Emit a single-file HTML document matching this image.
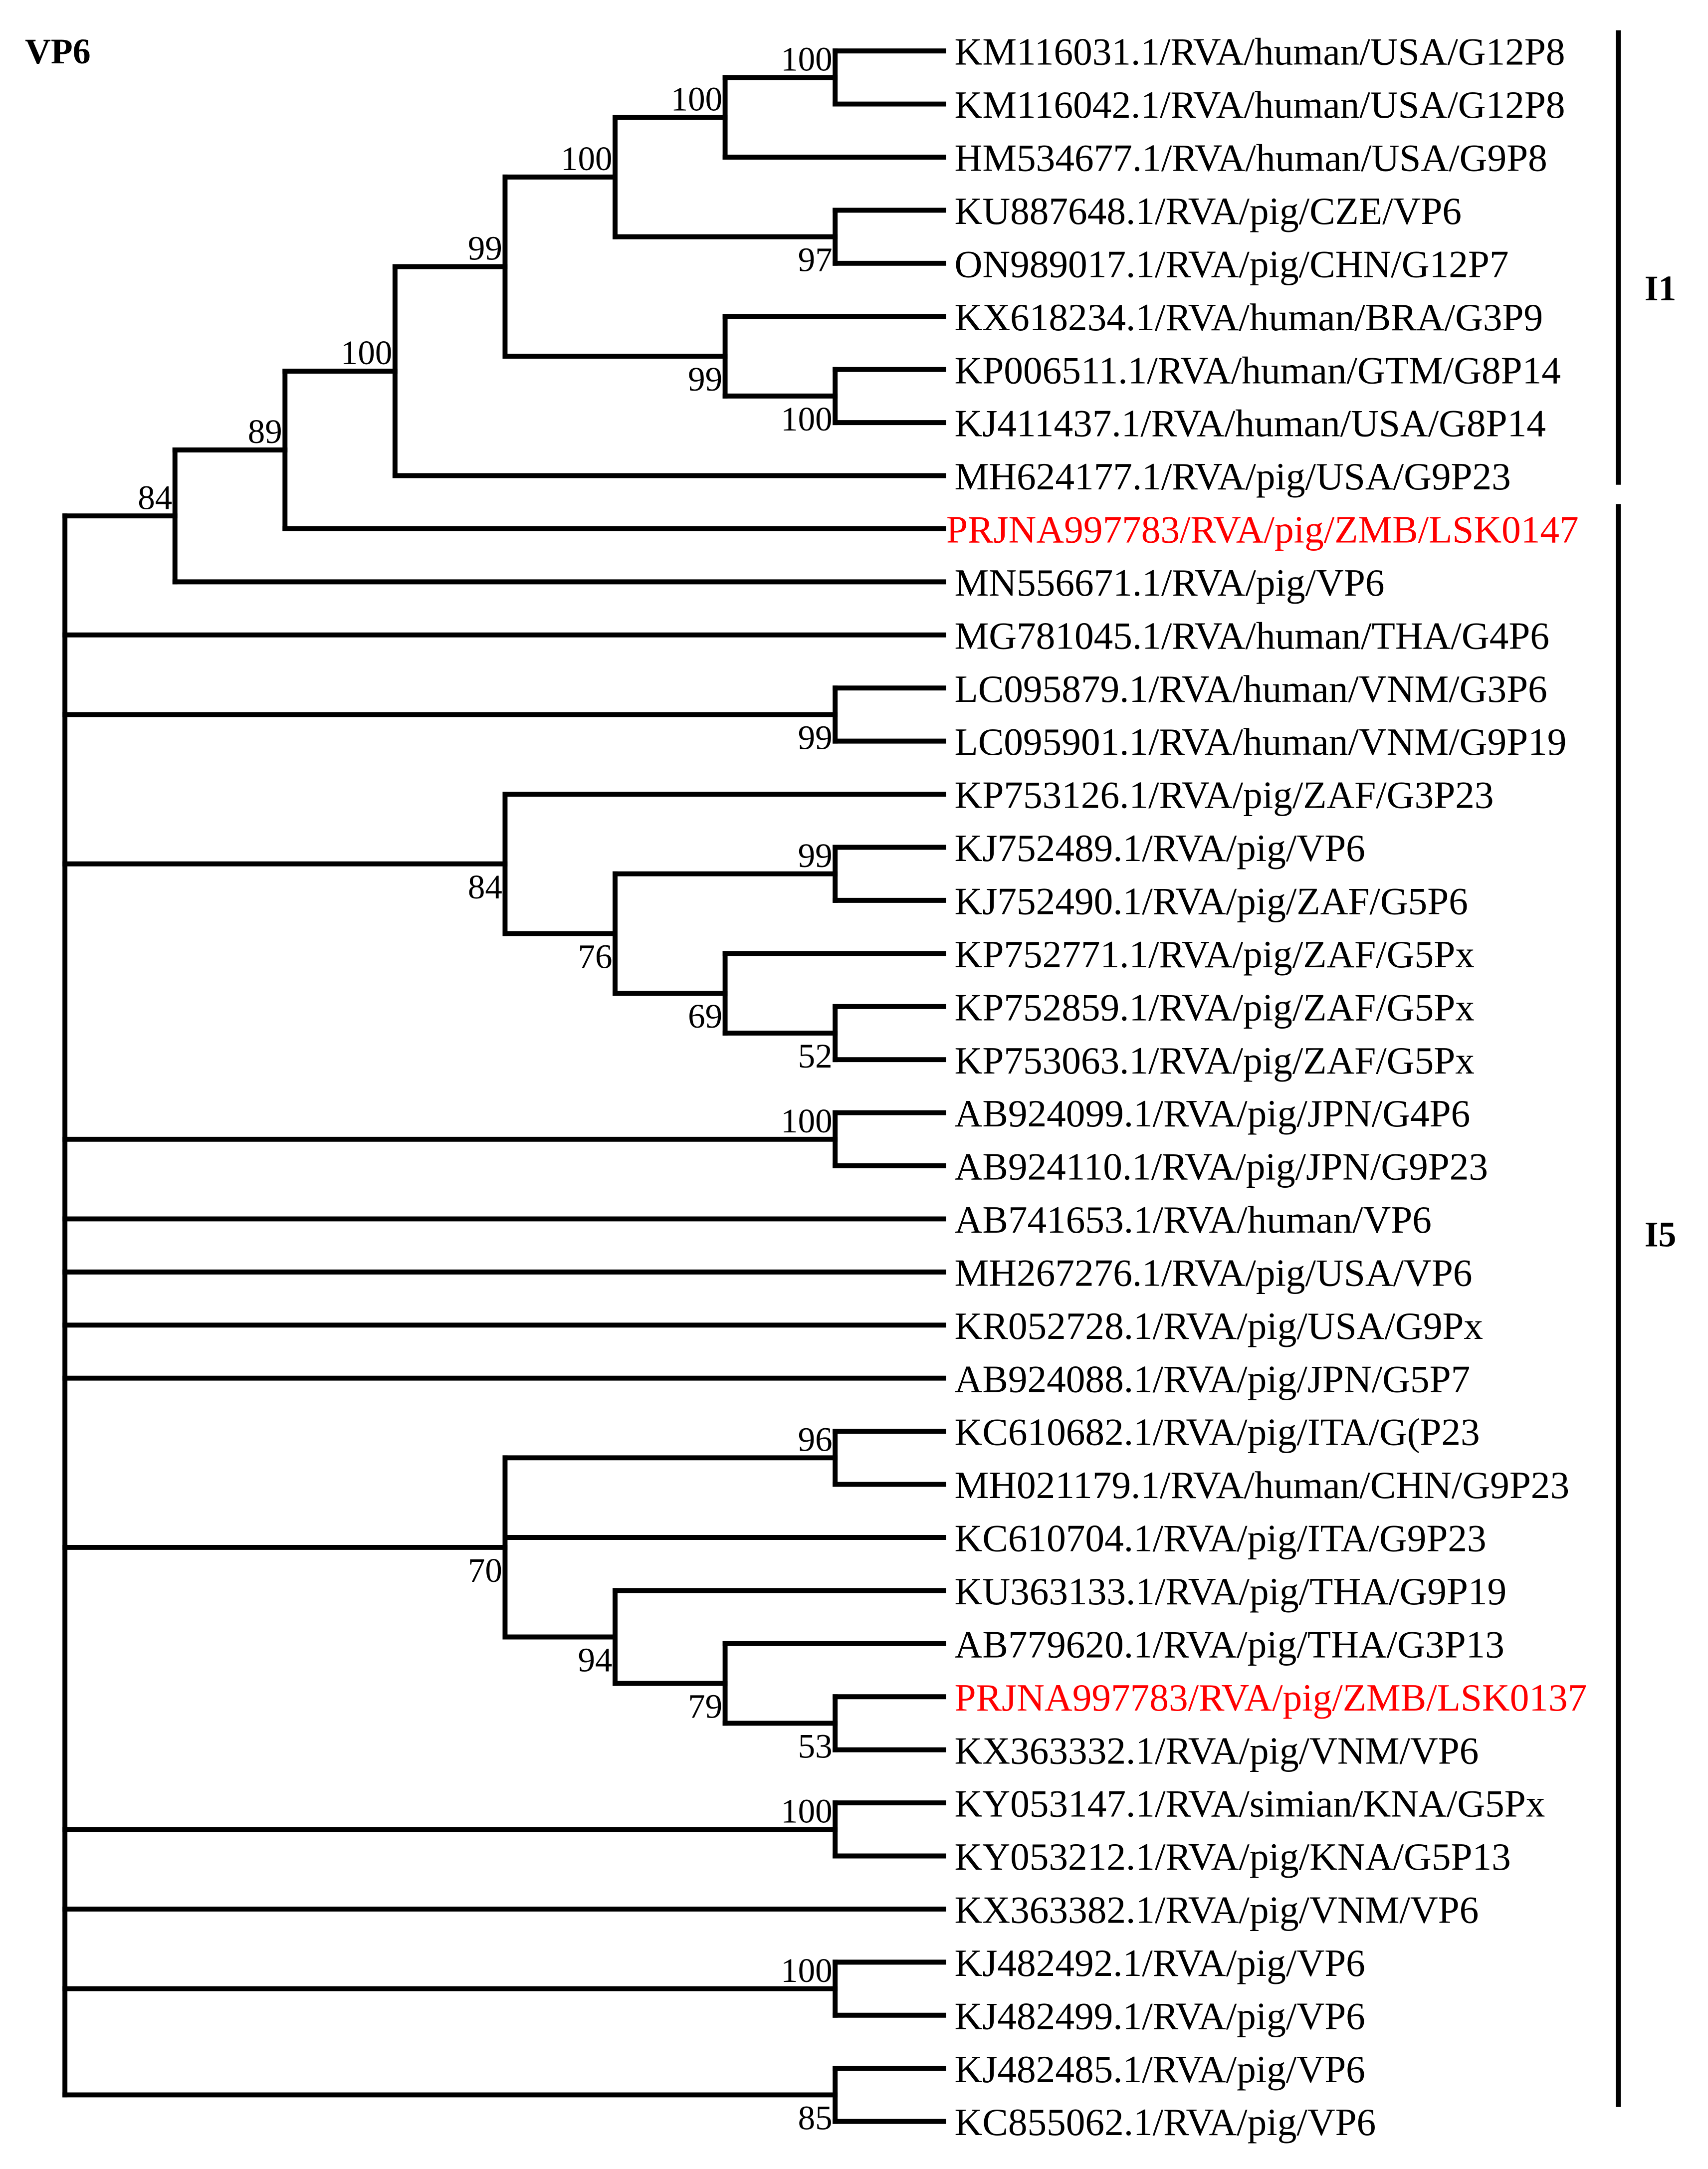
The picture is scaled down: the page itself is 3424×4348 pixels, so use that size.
<!DOCTYPE html>
<html><head><meta charset="utf-8">
<style>html,body{margin:0;padding:0;background:#fff;}svg{display:block;}</style>
</head><body>
<svg id="tree" width="3424" height="4348" viewBox="0 0 1240 1575" xmlns="http://www.w3.org/2000/svg" font-family="'Liberation Serif', serif">
<text x="18" y="46" font-size="26" font-weight="bold">VP6</text>
<g id="branches" stroke="#000" stroke-width="3.6" fill="none" stroke-linecap="square"></g>
<g id="labels"></g>
<line x1="1175" y1="22" x2="1175" y2="352" stroke="#000" stroke-width="3.6"/>
<line x1="1175" y1="366" x2="1175" y2="1530" stroke="#000" stroke-width="3.6"/>
<text x="1194" y="218" font-size="26" font-weight="bold">I1</text>
<text x="1194" y="905" font-size="26" font-weight="bold">I5</text>
</svg>
<script>
const leaves = ["KM116031.1/RVA/human/USA/G12P8","KM116042.1/RVA/human/USA/G12P8","HM534677.1/RVA/human/USA/G9P8","KU887648.1/RVA/pig/CZE/VP6","ON989017.1/RVA/pig/CHN/G12P7","KX618234.1/RVA/human/BRA/G3P9","KP006511.1/RVA/human/GTM/G8P14","KJ411437.1/RVA/human/USA/G8P14","MH624177.1/RVA/pig/USA/G9P23","PRJNA997783/RVA/pig/ZMB/LSK0147","MN556671.1/RVA/pig/VP6","MG781045.1/RVA/human/THA/G4P6","LC095879.1/RVA/human/VNM/G3P6","LC095901.1/RVA/human/VNM/G9P19","KP753126.1/RVA/pig/ZAF/G3P23","KJ752489.1/RVA/pig/VP6","KJ752490.1/RVA/pig/ZAF/G5P6","KP752771.1/RVA/pig/ZAF/G5Px","KP752859.1/RVA/pig/ZAF/G5Px","KP753063.1/RVA/pig/ZAF/G5Px","AB924099.1/RVA/pig/JPN/G4P6","AB924110.1/RVA/pig/JPN/G9P23","AB741653.1/RVA/human/VP6","MH267276.1/RVA/pig/USA/VP6","KR052728.1/RVA/pig/USA/G9Px","AB924088.1/RVA/pig/JPN/G5P7","KC610682.1/RVA/pig/ITA/G(P23","MH021179.1/RVA/human/CHN/G9P23","KC610704.1/RVA/pig/ITA/G9P23","KU363133.1/RVA/pig/THA/G9P19","AB779620.1/RVA/pig/THA/G3P13","PRJNA997783/RVA/pig/ZMB/LSK0137","KX363332.1/RVA/pig/VNM/VP6","KY053147.1/RVA/simian/KNA/G5Px","KY053212.1/RVA/pig/KNA/G5P13","KX363382.1/RVA/pig/VNM/VP6","KJ482492.1/RVA/pig/VP6","KJ482499.1/RVA/pig/VP6","KJ482485.1/RVA/pig/VP6","KC855062.1/RVA/pig/VP6"];
const highlighted = [9, 31];
const nodeNames   = ["root","A","A1","A2","A3","A4","A6","A8","A7","A5","A9","B","C","C1","C2","C3","C4","D","E","E1","E2","E3","E4","F","G","H"];
const nodeDepth   = [0,1,2,3,4,5,6,7,7,6,7,7,4,5,7,6,7,7,4,7,5,6,7,7,7,7];
const nodeBoot    = ["","84","89","100","99","100","100","100","97","99","100","99","84","76","99","69","52","100","70","96","94","79","53","100","100","85"];
const bootAbove   = [0,1,1,1,1,1,1,1,0,0,0,0,0,0,1,0,0,1,0,1,0,0,0,1,1,0];
const nodeKids = [
 ["A",11,"B","C","D",22,23,24,25,"E","F",35,"G","H"],
 ["A1",10],["A2",9],["A3",8],["A4","A5"],["A6","A7"],["A8",2],[0,1],[3,4],[5,"A9"],[6,7],
 [12,13],[14,"C1"],["C2","C3"],[15,16],[17,"C4"],[18,19],[20,21],
 ["E1",28,"E2"],[26,27],[29,"E3"],[30,"E4"],[31,32],[33,34],[36,37],[38,39]
];
const X0=47, DX=79.9, LEAFX=685, Y0=37, DY=38.55;
const xOf = d => X0 + d*DX;
const yLeaf = i => Y0 + i*DY;
const svgNS="http://www.w3.org/2000/svg";
const br=document.getElementById('branches'), lb=document.getElementById('labels');
function line(x1,y1,x2,y2,name){
  const l=document.createElementNS(svgNS,'line');
  l.setAttribute('x1',x1);l.setAttribute('y1',y1);l.setAttribute('x2',x2);l.setAttribute('y2',y2);
  
  
  br.appendChild(l);
}
const yCache={};
function yOf(c){
  if(typeof c==='number') return yLeaf(c);
  if(yCache[c]!==undefined) return yCache[c];
  const k=nodeKids[nodeNames.indexOf(c)];
  const v=(yOf(k[0])+yOf(k[k.length-1]))/2;
  yCache[c]=v; return v;
}
nodeNames.forEach((n,i)=>{
  const x=xOf(nodeDepth[i]); const kids=nodeKids[i];
  const ys=kids.map(yOf);
  line(x,ys[0],x,ys[ys.length-1],'node-'+n.toLowerCase()+'-vertical');
  kids.forEach((k,j)=>{
    const kx = typeof k==='number'? LEAFX : xOf(nodeDepth[nodeNames.indexOf(k)]);
    line(x,ys[j],kx,ys[j],'branch-'+(typeof k==='number'?'leaf-'+k:k.toLowerCase()));
  });
  if(nodeBoot[i]){
    const t=document.createElementNS(svgNS,'text');
    const y=yOf(n);
    t.setAttribute('x',x-2);
    t.setAttribute('y', bootAbove[i]? y-5 : y+25);
    t.setAttribute('text-anchor','end');
    t.setAttribute('font-size','25');
    t.textContent=nodeBoot[i];
    
    
    lb.appendChild(t);
  }
});
leaves.forEach((s,i)=>{
  const t=document.createElementNS(svgNS,'text');
  const red=highlighted.includes(i);
  t.setAttribute('x', i===9?687:693);
  t.setAttribute('y', yLeaf(i)+10);
  t.setAttribute('font-size','28');
  if(red) t.setAttribute('fill','#ff0000');
  t.textContent=s;
  
  
  lb.appendChild(t);
});
</script>
</body></html>
